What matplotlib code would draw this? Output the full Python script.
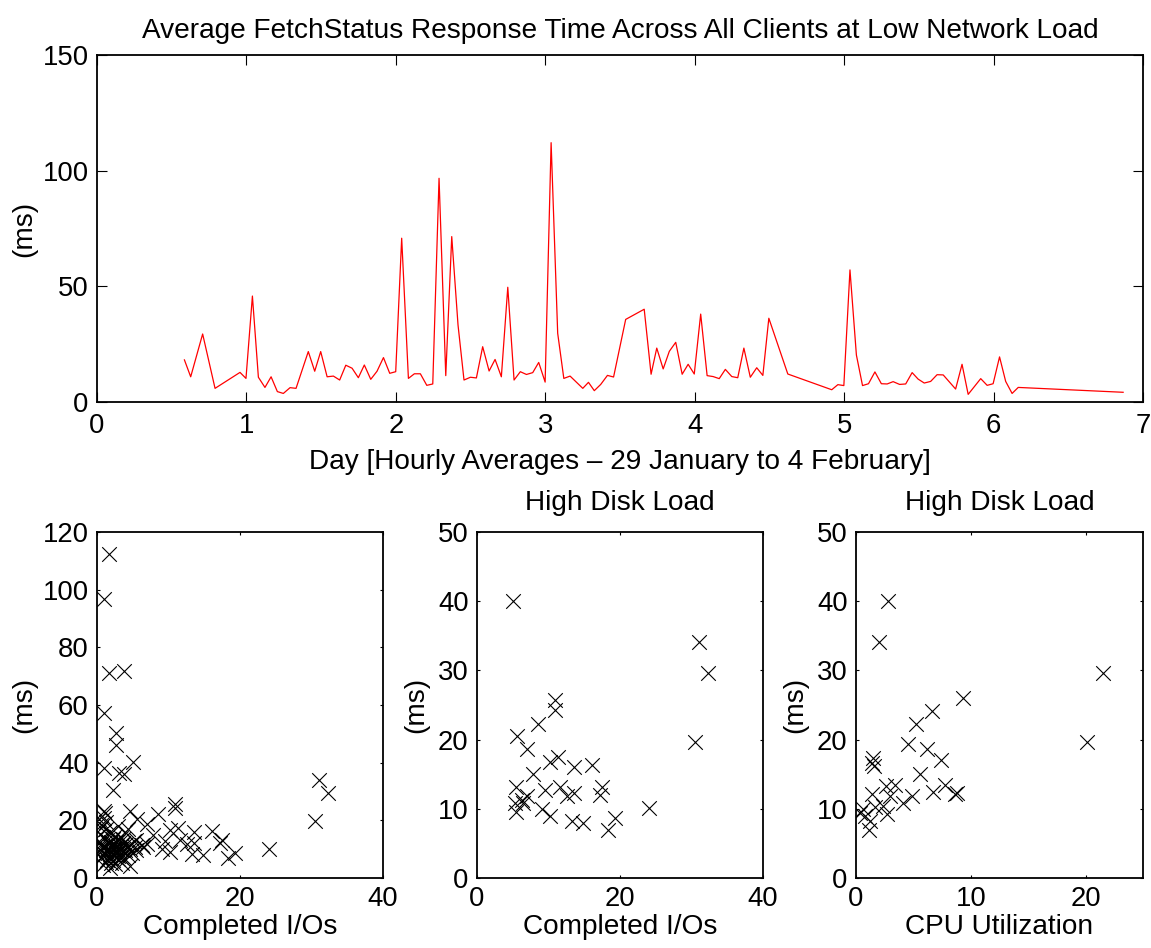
import matplotlib
matplotlib.use("Agg")
import matplotlib.pyplot as plt

plt.rcParams["font.family"] = ["Liberation Sans", "DejaVu Sans"]
plt.rcParams["font.size"] = 19.8
plt.rcParams["axes.titlesize"] = 20.2
plt.rcParams["axes.labelsize"] = 20.2

# hourly averages, low network load
DAY = [0.585, 0.627, 0.707, 0.79, 0.957, 0.997, 1.04, 1.08, 1.124, 1.165, 1.207, 1.247, 1.292, 1.332,
       1.414, 1.457, 1.497, 1.54, 1.582, 1.624, 1.665, 1.707, 1.749, 1.789, 1.832, 1.874, 1.917, 1.959,
       1.999, 2.039, 2.084, 2.124, 2.164, 2.207, 2.247, 2.289, 2.334, 2.374, 2.416, 2.456, 2.499, 2.539,
       2.581, 2.624, 2.664, 2.706, 2.749, 2.791, 2.833, 2.874, 2.916, 2.956, 2.999, 3.039, 3.083, 3.124,
       3.166, 3.251, 3.289, 3.328, 3.371, 3.416, 3.457, 3.538, 3.662, 3.708, 3.746, 3.789, 3.83, 3.873,
       3.916, 3.956, 3.997, 4.04, 4.083, 4.123, 4.164, 4.205, 4.248, 4.288, 4.329, 4.372, 4.415, 4.456,
       4.496, 4.623, 4.917, 4.958, 4.998, 5.039, 5.082, 5.123, 5.163, 5.206, 5.249, 5.288, 5.328, 5.371,
       5.412, 5.455, 5.495, 5.536, 5.579, 5.622, 5.663, 5.746, 5.789, 5.83, 5.914, 5.957, 5.997, 6.04,
       6.081, 6.124, 6.165, 6.867]
RESP_MS = [18.2, 10.9, 29.4, 5.9, 12.8, 10.2, 45.8, 10.7, 6.3, 10.9, 4.5, 3.7, 6.2, 5.9,
           21.8, 13.3, 21.8, 10.9, 11.2, 9.5, 15.9, 14.6, 10.5, 16.0, 9.8, 13.3, 19.2, 12.4,
           13.1, 70.8, 10.2, 12.2, 12.2, 7.2, 7.8, 96.7, 11.4, 71.5, 33.3, 9.5, 10.7, 10.4,
           23.9, 13.4, 18.4, 10.9, 49.6, 9.5, 13.1, 11.9, 12.7, 17.1, 8.6, 112.1, 29.7, 10.2,
           11.2, 5.9, 8.5, 4.9, 7.6, 11.5, 10.8, 35.7, 40.1, 12.0, 23.3, 14.3, 21.9, 25.8,
           12.0, 16.3, 12.1, 38.0, 11.4, 11.0, 10.1, 14.1, 11.0, 10.5, 23.3, 10.7, 14.8, 11.5,
           36.2, 12.1, 5.3, 7.5, 7.1, 57.1, 20.3, 7.1, 7.9, 13.0, 7.9, 7.8, 8.8, 7.6,
           7.8, 12.7, 9.9, 8.2, 8.9, 11.8, 11.7, 5.6, 16.3, 3.3, 10.1, 7.2, 7.9, 19.5,
           8.9, 3.7, 6.3, 4.2]

# high disk load hours: completed I/Os vs response time
HD_IO = [5.02, 31.07, 32.37, 30.5, 10.93, 10.93, 8.5, 5.58, 6.98, 10.23, 11.26, 13.63, 16.05, 7.81,
         5.49, 9.53, 11.63, 13.63, 12.56, 17.44, 17.2, 6.3, 7.0, 6.5, 5.26, 5.49, 9.07, 10.23,
         13.26, 14.88, 18.37, 19.3, 24.05]
HD_IO_MS = [40.1, 34.1, 29.6, 19.7, 25.7, 24.3, 22.2, 20.5, 18.6, 16.8, 17.5, 16.1, 16.3, 15.0,
            13.2, 12.7, 13.2, 12.3, 11.8, 13.2, 12.0, 11.3, 11.8, 10.9, 10.8, 9.6, 9.9, 8.9,
            8.2, 7.9, 7.0, 8.7, 10.1]

# high disk load hours: CPU utilization vs response time
HD_CPU = [2.76, 2.0, 21.52, 20.16, 9.34, 6.58, 5.22, 4.55, 6.15, 7.37, 1.51, 1.36, 1.59, 5.57,
          2.61, 3.39, 7.74, 6.73, 8.61, 8.82, 1.36, 2.96, 4.84, 4.12, 2.38, 1.65, 0.58, 0.35,
          2.67, 0.78, 1.22, 1.16]
HD_CPU_MS = [40.1, 34.1, 29.6, 19.6, 26.0, 24.2, 22.2, 19.4, 18.6, 17.0, 17.4, 16.6, 16.2, 15.1,
             13.3, 13.5, 13.5, 12.5, 12.2, 12.3, 12.2, 11.9, 11.8, 10.8, 10.4, 10.3, 9.9, 9.4,
             9.3, 9.0, 8.2, 7.0]

# remaining hours (low disk load), shown only in the all-hours panel
LOW_IO = [1.72, 1.02, 1.63, 3.72, 1.02, 2.7, 2.7, 1.02, 3.02, 3.72, 2.23, 0.93, 0.93, 4.65,
          4.65, 3.49, 1.86, 0.5, 1.2, 2.0,
          0.3, 0.5, 0.6, 0.8, 1.0, 1.1, 1.2, 1.4, 1.5, 1.7, 1.8, 2.0, 2.1, 2.3,
          2.5, 2.6, 2.8, 3.0, 3.2, 3.4, 3.6, 3.9, 4.1, 4.4, 0.4, 0.7, 0.9, 1.3,
          1.6, 1.9, 2.2, 2.4, 2.7, 2.9, 3.1, 3.3, 3.5, 3.8, 4.2, 0.2, 0.6, 1.0,
          1.4, 1.8, 2.2, 2.6, 3.0, 3.4, 0.5, 1.2, 1.9, 2.5, 3.7, 4.6, 5.2, 0.8,
          1.6, 2.4, 4.9, 3.9, 0.3, 1.1, 4.3, 2.9]
LOW_MS = [112.2, 96.7, 71.0, 71.8, 57.1, 50.2, 46.2, 38.1, 36.3, 36.1, 30.6, 23.1, 20.8, 23.1,
          4.0, 5.2, 3.5, 18.5, 17.0, 15.5,
          12.1, 9.4, 6.8, 14.2, 11.0, 8.2, 5.6, 13.1, 10.2, 7.4, 16.0, 12.4, 9.0, 6.1,
          14.6, 11.2, 8.6, 12.9, 10.1, 7.2, 13.6, 9.7, 11.8, 8.1, 15.3, 10.6, 7.9, 9.8,
          12.0, 5.3, 13.4, 7.6, 10.4, 6.6, 9.2, 14.0, 11.5, 6.9, 10.9, 8.3, 11.7, 13.9,
          6.4, 10.8, 8.3, 12.5, 7.8, 9.9, 17.2, 19.4, 11.6, 4.8, 12.3, 10.2, 13.0, 4.4,
          8.8, 10.0, 8.5, 15.8, 20.5, 22.4, 17.0, 18.1]

W, H = 1151, 948


def StyleAxes(ax, ticklen):
    ax.tick_params(direction="in", length=ticklen, width=0.8, top=True, right=True, pad=6)
    for sp in ax.spines.values():
        sp.set_linewidth(1.3)


def Main():
    fig = plt.figure(figsize=(W / 100, H / 100), dpi=100)

    ax = fig.add_axes([97 / W, 1 - 402 / H, 1046 / W, 347 / H])
    ax.plot(DAY, RESP_MS, color="red", linewidth=0.9)
    ax.set_xlim(0, 7)
    ax.set_ylim(0, 150)
    ax.set_xticks(range(0, 8))
    ax.set_yticks([0, 50, 100, 150])
    ax.set_title("Average FetchStatus Response Time Across All Clients at Low Network Load", pad=12)
    ax.set_xlabel("Day [Hourly Averages \u2013 29 January to 4 February]", labelpad=7)
    ax.set_ylabel("(ms)", labelpad=4)
    StyleAxes(ax, 7.5)
    ax.tick_params(axis="x", pad=8)

    bottom = 1 - 878 / H
    height = 346 / H
    marker = dict(marker="x", color="black", s=110, linewidths=0.8)

    ax1 = fig.add_axes([97 / W, bottom, 286 / W, height])
    ax1.scatter(HD_IO + LOW_IO, HD_IO_MS + LOW_MS, **marker)
    ax1.set_xlim(0, 40)
    ax1.set_ylim(0, 120)
    ax1.set_xticks([0, 20, 40])
    ax1.set_yticks(range(0, 121, 20))
    ax1.set_xlabel("Completed I/Os", labelpad=1)
    ax1.set_ylabel("(ms)", labelpad=4)
    StyleAxes(ax1, 2.5)

    ax2 = fig.add_axes([477 / W, bottom, 286 / W, height])
    ax2.scatter(HD_IO, HD_IO_MS, **marker)
    ax2.set_xlim(0, 40)
    ax2.set_ylim(0, 50)
    ax2.set_xticks([0, 20, 40])
    ax2.set_yticks(range(0, 51, 10))
    ax2.set_title("High Disk Load", pad=16)
    ax2.set_xlabel("Completed I/Os", labelpad=1)
    ax2.set_ylabel("(ms)", labelpad=6)
    StyleAxes(ax2, 2.5)

    ax3 = fig.add_axes([856 / W, bottom, 287 / W, height])
    ax3.scatter(HD_CPU, HD_CPU_MS, **marker)
    ax3.set_xlim(0, 25)
    ax3.set_ylim(0, 50)
    ax3.set_xticks([0, 10, 20])
    ax3.set_yticks(range(0, 51, 10))
    ax3.set_title("High Disk Load", pad=16)
    ax3.set_xlabel("CPU Utilization", labelpad=1)
    ax3.set_ylabel("(ms)", labelpad=6)
    StyleAxes(ax3, 2.5)

    fig.savefig("out.png", dpi=100)
    plt.close(fig)


if __name__ == "__main__":
    Main()
